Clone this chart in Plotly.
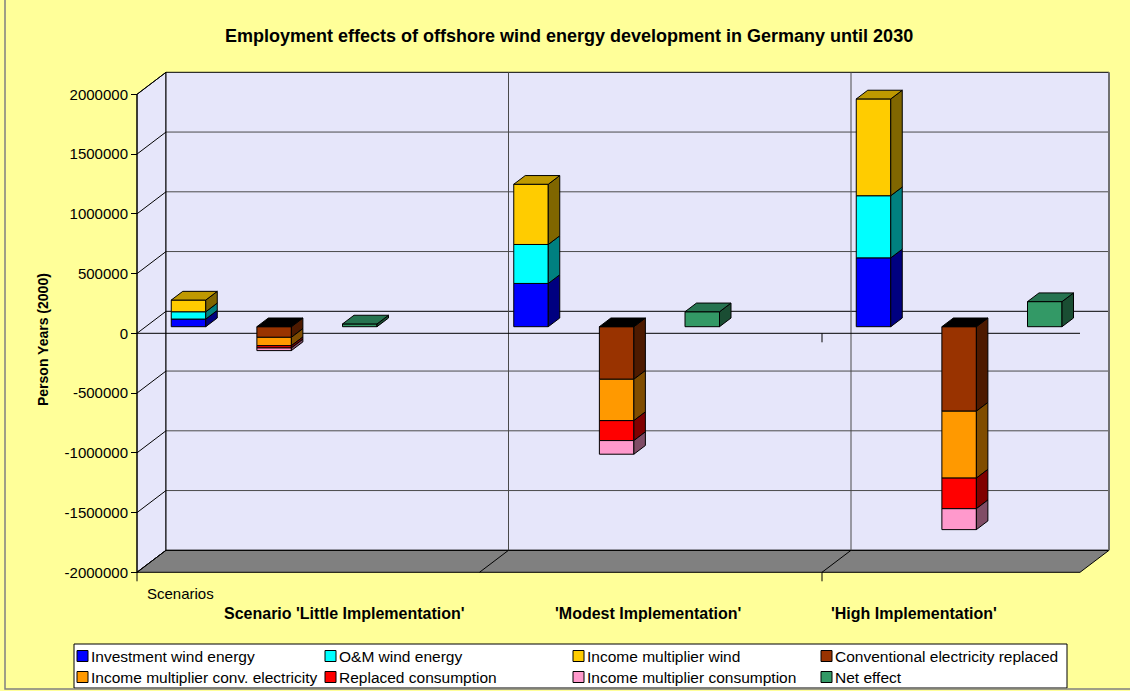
import plotly.graph_objects as go

# ---------------------------------------------------------------- data
scenarios = [
    "Scenario 'Little Implementation'",
    "'Modest Implementation'",
    "'High Implementation'",
]
investment_wind = [64000, 362000, 576000]
om_wind = [61000, 326000, 520000]
income_mult_wind = [98000, 504000, 810000]
conv_replaced = [-89000, -440000, -707000]
income_mult_conv = [-70000, -346000, -560000]
replaced_consumption = [-19000, -167000, -256000]
income_mult_consumption = [-22000, -114000, -175000]
net_effect = [23000, 125000, 210000]

y_ticks = [2000000, 1500000, 1000000, 500000, 0,
           -500000, -1000000, -1500000, -2000000]

# name, values, stack group, front colour, side colour, top colour
series = [
    ("Investment wind energy", investment_wind, "pos", "#0000FF", "#000080", None),
    ("O&M wind energy", om_wind, "pos", "#00FFFF", "#008080", None),
    ("Income multiplier wind", income_mult_wind, "pos", "#FFCC00", "#806600", "#BF9900"),
    ("Conventional electricity replaced", conv_replaced, "neg", "#993300", "#4D1A00", None),
    ("Income multiplier conv. electricity", income_mult_conv, "neg", "#FF9900", "#804D00", None),
    ("Replaced consumption", replaced_consumption, "neg", "#FF0000", "#800000", None),
    ("Income multiplier consumption", income_mult_consumption, "neg", "#FF99CC", "#804D66", None),
    ("Net effect", net_effect, "net", "#339966", "#1A4D33", "#267350"),
]

# ---------------------------------------------------------------- geometry
W, H = 1130, 691
FONT = "Arial, Liberation Sans, sans-serif"
PX_PER_UNIT = 119.5 / 1e6          # vertical pixels per person-year
U = 1 / PX_PER_UNIT                 # person-years per pixel
ZERO_PX = 333.3                     # pixel row of the front-plane zero
Y_RANGE = [-(H - ZERO_PX) * U, ZERO_PX * U]

FRONT_L, FRONT_R = 137, 1080        # front edge of the floor
DEPTH_DX, DEPTH_DY = 29, 22 * U     # oblique depth of the chart box
VMIN, VMAX = min(y_ticks), max(y_ticks)

CAT_W = 342.5                       # width of one scenario block
SLOT_W = CAT_W / 4
BAR_W = 34.5
BAR_OFF_DX, BAR_OFF_DY = 8.7, 6.6 * U   # bar row sits inside the box
BAR_DX, BAR_DY = 11.5, 8.7 * U          # depth of each column
SLOT = {"pos": 0, "neg": 1, "net": 2}

WALL = "#E6E6FA"
GRID = "#4A4A4A"


def paper(xpx, ypx):
    return xpx / W, 1 - ypx / H


shapes = []


def line(x0, y0, x1, y1, color="black", width=1):
    shapes.append(dict(type="line", xref="x", yref="y", x0=x0, y0=y0, x1=x1, y1=y1,
                       line=dict(color=color, width=width), layer="below"))


def poly(pts, fill, color="black", width=1):
    path = "M " + " L ".join(f"{x},{y}" for x, y in pts) + " Z"
    shapes.append(dict(type="path", xref="x", yref="y", path=path, fillcolor=fill,
                       line=dict(color=color, width=width), layer="below"))


# side wall, back wall and floor
poly([(FRONT_L, VMAX), (FRONT_L + DEPTH_DX, VMAX + DEPTH_DY),
      (FRONT_L + DEPTH_DX, VMIN + DEPTH_DY), (FRONT_L, VMIN)], WALL)
shapes.append(dict(type="rect", xref="x", yref="y",
                   x0=FRONT_L + DEPTH_DX, x1=FRONT_R + DEPTH_DX,
                   y0=VMIN + DEPTH_DY, y1=VMAX + DEPTH_DY, fillcolor=WALL,
                   line=dict(width=0), layer="below"))
poly([(FRONT_L, VMIN), (FRONT_L + DEPTH_DX, VMIN + DEPTH_DY),
      (FRONT_R + DEPTH_DX, VMIN + DEPTH_DY), (FRONT_R, VMIN)], "#808080")

# gridlines on the back wall and their continuation over the side wall
for v in y_ticks:
    col = "black" if v in (VMIN, VMAX, 0) else GRID
    line(FRONT_L + DEPTH_DX, v + DEPTH_DY, FRONT_R + DEPTH_DX, v + DEPTH_DY, col)
    line(FRONT_L, v, FRONT_L + DEPTH_DX, v + DEPTH_DY, "black")

# back-wall borders
line(FRONT_L + DEPTH_DX, VMIN + DEPTH_DY, FRONT_L + DEPTH_DX, VMAX + DEPTH_DY, "black")
line(FRONT_R + DEPTH_DX, VMIN + DEPTH_DY, FRONT_R + DEPTH_DX, VMAX + DEPTH_DY, "#707070", 2)

# scenario dividers
for k in (1, 2):
    xk = FRONT_L + CAT_W * k
    line(xk + DEPTH_DX, VMIN + DEPTH_DY, xk + DEPTH_DX, VMAX + DEPTH_DY, GRID)
    line(xk, VMIN, xk + DEPTH_DX, VMIN + DEPTH_DY, "black")

# front axis, zero line and category ticks
line(FRONT_L, VMIN - 9 * U, FRONT_L, VMAX, "black")
line(FRONT_L, 0, FRONT_R, 0, "black")
xt = FRONT_L + CAT_W * 2
line(xt, 0, xt, -9 * U, "black")
line(xt, VMIN, xt, VMIN - 9 * U, "black")

# ---------------------------------------------------------------- columns
fig = go.Figure()


def centre(cat, group):
    return FRONT_L + BAR_OFF_DX + CAT_W * cat + SLOT_W * (SLOT[group] + 0.5)


def face(pts, fill):
    xs = [p[0] for p in pts] + [pts[0][0]]
    ys = [p[1] for p in pts] + [pts[0][1]]
    fig.add_trace(go.Scatter(x=xs, y=ys, mode="lines", fill="toself",
                             fillcolor=fill, line=dict(color="black", width=1),
                             hoverinfo="skip", showlegend=False))


stack_top = {g: [BAR_OFF_DY] * len(scenarios) for g in SLOT}
for name, vals, group, front, side, top in series:
    bases = [stack_top[group][i] for i in range(len(vals))]
    xs = [centre(i, group) for i in range(len(vals))]
    fig.add_trace(go.Bar(x=xs, y=vals, base=bases, width=BAR_W, name=name,
                         marker=dict(color=front, line=dict(color="black", width=1)),
                         showlegend=False))
    for i, v in enumerate(vals):
        y0, y1 = bases[i], bases[i] + v
        xr = xs[i] + BAR_W / 2
        face([(xr, y0), (xr + BAR_DX, y0 + BAR_DY),
              (xr + BAR_DX, y1 + BAR_DY), (xr, y1)], side)
        stack_top[group][i] = y1

# top faces of the columns
for group, colour in (("pos", series[2][5]), ("neg", "#000000"), ("net", series[7][5])):
    for i in range(len(scenarios)):
        yt = BAR_OFF_DY if group == "neg" else stack_top[group][i]
        xl = centre(i, group) - BAR_W / 2
        xr = xl + BAR_W
        face([(xl, yt), (xl + BAR_DX, yt + BAR_DY),
              (xr + BAR_DX, yt + BAR_DY), (xr, yt)], colour)

# ---------------------------------------------------------------- texts
annotations = []


def text(xpx, ypx, s, size, anchor="center", bold=False, angle=0):
    px, py = paper(xpx, ypx)
    annotations.append(dict(xref="paper", yref="paper", x=px, y=py,
                            text=f"<b>{s}</b>" if bold else s, showarrow=False,
                            xanchor=anchor, yanchor="middle", textangle=angle,
                            font=dict(family=FONT, size=size, color="black")))


text(569, 36, "Employment effects of offshore wind energy development in Germany until 2030",
     18, bold=True)
text(43, 340, "Person Years (2000)", 14, bold=True, angle=-90)
text(145, 593, "Scenarios", 15, anchor="left")
for lbl, cx in zip(scenarios, (344, 648, 914)):
    text(cx, 613, lbl, 16, bold=True)

# legend box
lx0, ly0 = paper(74, 644)
lx1, ly1 = paper(1067, 688)
shapes.append(dict(type="rect", xref="paper", yref="paper", x0=lx0, x1=lx1,
                   y0=ly1, y1=ly0, fillcolor="white", line=dict(color="black", width=1)))
for k, (name, _, _, front, _, _) in enumerate(series):
    col, row = k % 4, k // 4
    sx, sy = 77 + 248 * col, 656 + 21 * row
    a, b = paper(sx, sy - 5.5)
    c, d = paper(sx + 11, sy + 5.5)
    shapes.append(dict(type="rect", xref="paper", yref="paper", x0=a, x1=c, y0=d, y1=b,
                       fillcolor=front, line=dict(color="black", width=1)))
    text(sx + 12, sy, name, 15.5, anchor="left")

# outer chart border
bx0, by0 = paper(5, 689)
shapes.append(dict(type="rect", xref="paper", yref="paper", x0=bx0, x1=1.02,
                   y0=by0, y1=1.02, line=dict(color="#808080", width=1.5)))

fig.update_layout(
    width=W, height=H, autosize=False,
    margin=dict(l=0, r=0, t=0, b=0),
    paper_bgcolor="#FFFF99", plot_bgcolor="#FFFF99",
    barmode="overlay", showlegend=False,
    xaxis=dict(range=[0, W], visible=False, fixedrange=True),
    yaxis=dict(range=Y_RANGE, anchor="free", position=FRONT_L / W, side="left",
               tickvals=y_ticks, ticktext=[str(v) for v in y_ticks],
               ticks="outside", ticklen=6, tickcolor="black", tickwidth=1,
               showgrid=False, zeroline=False, showline=False, fixedrange=True,
               tickfont=dict(family=FONT, size=15, color="black")),
    shapes=shapes, annotations=annotations,
)

fig.write_html("out.html")
